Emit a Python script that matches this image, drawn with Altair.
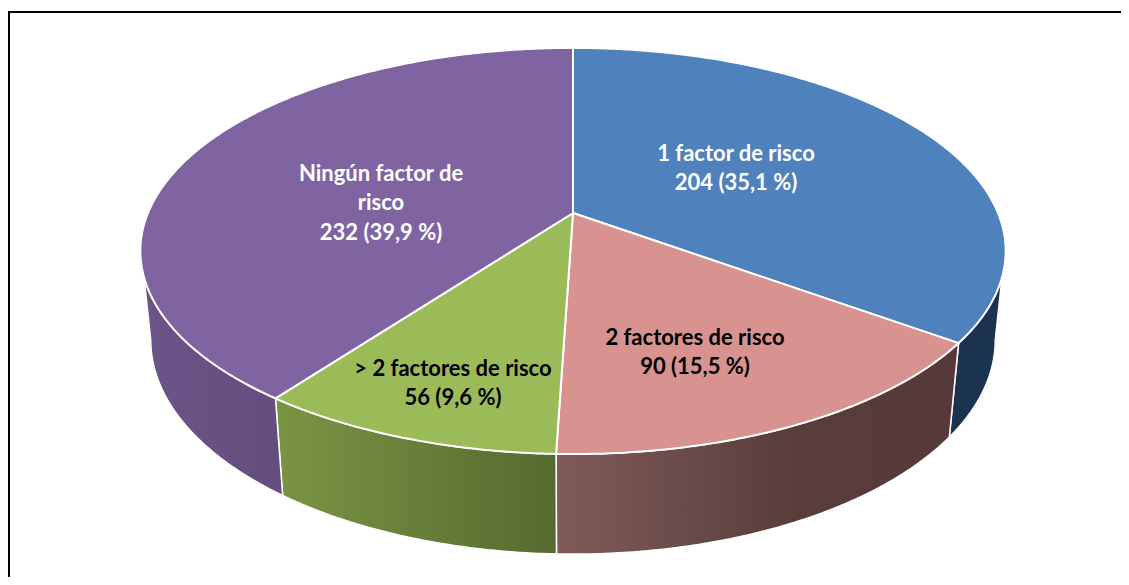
import math
import altair as alt
import pandas as pd

categories = ["1 factor de risco", "2 factores de risco", "> 2 factores de risco", "Ningún factor de risco"]
counts = [204, 90, 56, 232]
percent_labels = ["204 (35,1 %)", "90 (15,5 %)", "56 (9,6 %)", "232 (39,9 %)"]
top_colors = ["#4f81bd", "#d89391", "#9bbb59", "#8064a2"]
wall_colors = [
    [(0, "#1c334f"), (1, "#1c334f")],
    [(0, "#7f5b59"), (0.6, "#583d3b"), (1, "#553a39")],
    [(0, "#7a9443"), (1, "#566a30")],
    [(0, "#6b5488"), (1, "#644e7d")],
]

W, H = 1113, 569
CX, CY, A, B, K = 573, 213, 425, 196, 0.187
SHRINK = 0.976


def top(theta):
    t = math.radians(theta)
    x, y = math.sin(t), -math.cos(t)
    w = 1 - K * y
    return CX + A * x / w, CY + B * y / w


def bottom(theta):
    px, py = top(theta)
    return CX + (px - CX) * SHRINK, py + 75.5 + 0.054 * py


def arc(fn, a, b):
    n = max(2, int(abs(b - a) * 2))
    return [fn(a + (b - a) * i / n) for i in range(n + 1)]


total = sum(counts)
bounds = [0]
for c in counts:
    bounds.append(bounds[-1] + c / total * 360)

xs = alt.X("x:Q", scale=alt.Scale(domain=[8, W + 8], range=[0, W], nice=False, zero=False), axis=None)
ys = alt.Y("y:Q", scale=alt.Scale(domain=[8, H + 8], range=[0, H], nice=False, zero=False), axis=None)


def poly(points, fill, stroke="#ffffff", sw=2.0):
    pts = list(points) + [points[0]]
    df = pd.DataFrame({"x": [p[0] for p in pts], "y": [p[1] for p in pts], "o": range(len(pts))})
    return alt.Chart(df).mark_line(fill=fill, stroke=stroke, strokeWidth=sw, strokeJoin="round", interpolate="linear").encode(
        x=xs, y=ys, order="o:Q"
    )


layers = []
walls = {
    0: (108, 100.8, bounds[1], bounds[1]),
    1: (bounds[1], bounds[1], bounds[2], bounds[2]),
    2: (bounds[2], bounds[2], bounds[3], bounds[3]),
    3: (bounds[3], bounds[3], 252, 259.2),
}
for i, (ta, ba, tb, bb) in walls.items():
    pts = arc(top, ta, tb) + arc(bottom, bb, ba)
    fill = alt.Gradient(
        gradient="linear", x1=0, y1=0, x2=1, y2=0,
        stops=[alt.GradientStop(offset=o, color=c) for o, c in wall_colors[i]],
    )
    layers.append(poly(pts, fill, sw=1.5))

for i in range(4):
    pts = [(CX, CY)] + arc(top, bounds[i], bounds[i + 1])
    layers.append(poly(pts, top_colors[i], sw=2.0))

line_sets = [
    [categories[0], percent_labels[0]],
    [categories[1], percent_labels[1]],
    [categories[2], percent_labels[2]],
    ["Ningún factor de", "risco", percent_labels[3]],
]
label_xy = [(736, 154), (695, 338), (453, 369), (381, 174)]
text_col = ["#ffffff", "#000000", "#000000", "#ffffff"]
rows = []
for i, lines in enumerate(line_sets):
    for j, t in enumerate(lines):
        rows.append({"x": label_xy[i][0], "y": label_xy[i][1] + 29.3 * j, "t": t, "c": text_col[i]})
labels = alt.Chart(pd.DataFrame(rows)).mark_text(
    font="Lato", fontWeight="bold", fontSize=22, align="center", baseline="middle"
).encode(x=xs, y=ys, text="t:N", color=alt.Color("c:N", scale=None))

frame_df = pd.DataFrame({"x": [W + 8, 9, 9], "y": [12, 12, H + 8], "o": [0, 1, 2]})
frame = alt.Chart(frame_df).mark_line(color="#000000", strokeWidth=2, clip=True).encode(x=xs, y=ys, order="o:Q")

chart = alt.layer(*layers, frame, labels).properties(
    width=W, height=H, padding=0, background="#ffffff", autosize=alt.AutoSizeParams(type="none")
).configure_view(stroke=None)

chart.save("out.html", embed_options={"renderer": "svg", "actions": False})
